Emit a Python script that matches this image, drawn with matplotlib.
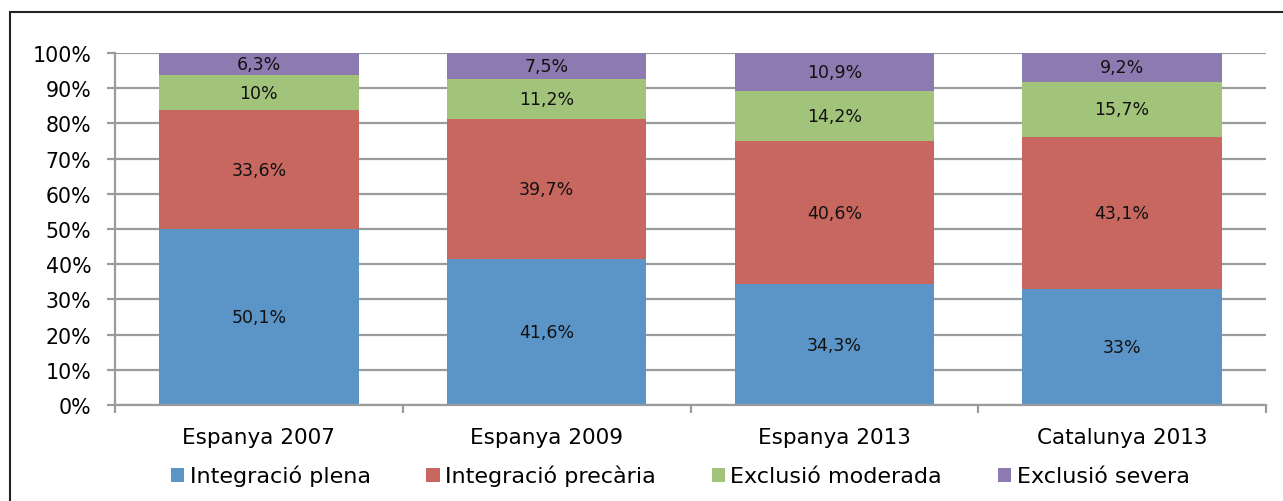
import numpy as np
import matplotlib
matplotlib.use('Agg')
import matplotlib.pyplot as plt
from matplotlib.patches import Rectangle

# dades (%)
categories = ['Espanya 2007', 'Espanya 2009', 'Espanya 2013', 'Catalunya 2013']
series_names = ['Integració plena', 'Integració precària',
                'Exclusió moderada', 'Exclusió severa']
plena = [50.1, 41.6, 34.3, 33.0]
precaria = [33.6, 39.7, 40.6, 43.1]
moderada = [10.0, 11.2, 14.2, 15.7]
severa = [6.3, 7.5, 10.9, 9.2]
label_plena = ['50,1%', '41,6%', '34,3%', '33%']
label_precaria = ['33,6%', '39,7%', '40,6%', '43,1%']
label_moderada = ['10%', '11,2%', '14,2%', '15,7%']
label_severa = ['6,3%', '7,5%', '10,9%', '9,2%']

colors = ['#5b95c8', '#c8675f', '#a2c47a', '#8c7ab0']

plt.rcParams['font.family'] = ['DejaVu Sans']

fig = plt.figure(figsize=(12.83, 5.02), dpi=100)
ax = fig.add_axes([115 / 1283, 1 - 406 / 502, (1266 - 115) / 1283, (406 - 54) / 502])

# marc exterior del gràfic
fig.add_artist(Rectangle((10 / 1283, -0.1), 1.2, 1 - 13 / 502 + 0.1,
                         transform=fig.transFigure, fill=False,
                         edgecolor='#222222', lw=1.5))

x = np.arange(len(categories))
bottom = np.zeros(len(categories))
all_vals = [plena, precaria, moderada, severa]
all_labels = [label_plena, label_precaria, label_moderada, label_severa]
for vals, labs, name, c in zip(all_vals, all_labels, series_names, colors):
    bars = ax.bar(x, vals, width=0.694, bottom=bottom, color=c, label=name, zorder=2)
    ax.bar_label(bars, labels=labs, label_type='center', fontsize=12.5, color='#111111')
    bottom = bottom + np.array(vals)

ax.set_xlim(-0.5, len(categories) - 0.5)
ax.set_ylim(0, 100)
ax.set_yticks(np.arange(0, 101, 10))
ax.set_yticklabels([f'{v}%' for v in range(0, 101, 10)], fontsize=14.8)
ax.yaxis.grid(True, color='#9a9c9c', lw=1.6, zorder=0)
ax.set_axisbelow(True)

ax.set_xticks(x)
ax.set_xticklabels(categories, fontsize=15.5)
ax.set_xticks(np.arange(-0.5, len(categories)), minor=True)
ax.tick_params(axis='x', which='major', length=0, pad=16)
ax.tick_params(axis='x', which='minor', length=6, width=1.6, color='#9a9c9c')
ax.tick_params(axis='y', length=6, width=1.6, color='#9a9c9c', pad=11)

for s in ['top', 'right']:
    ax.spines[s].set_visible(False)
for s in ['left', 'bottom']:
    ax.spines[s].set_color('#9a9c9c')
    ax.spines[s].set_linewidth(1.6)

ax.legend(loc='upper center', bbox_to_anchor=(0.491, -0.145), ncol=4, frameon=False,
          fontsize=16, handlelength=0.6, handleheight=0.6, handletextpad=0.25,
          columnspacing=2.5, borderaxespad=0)

fig.savefig('out.png', dpi=100)
